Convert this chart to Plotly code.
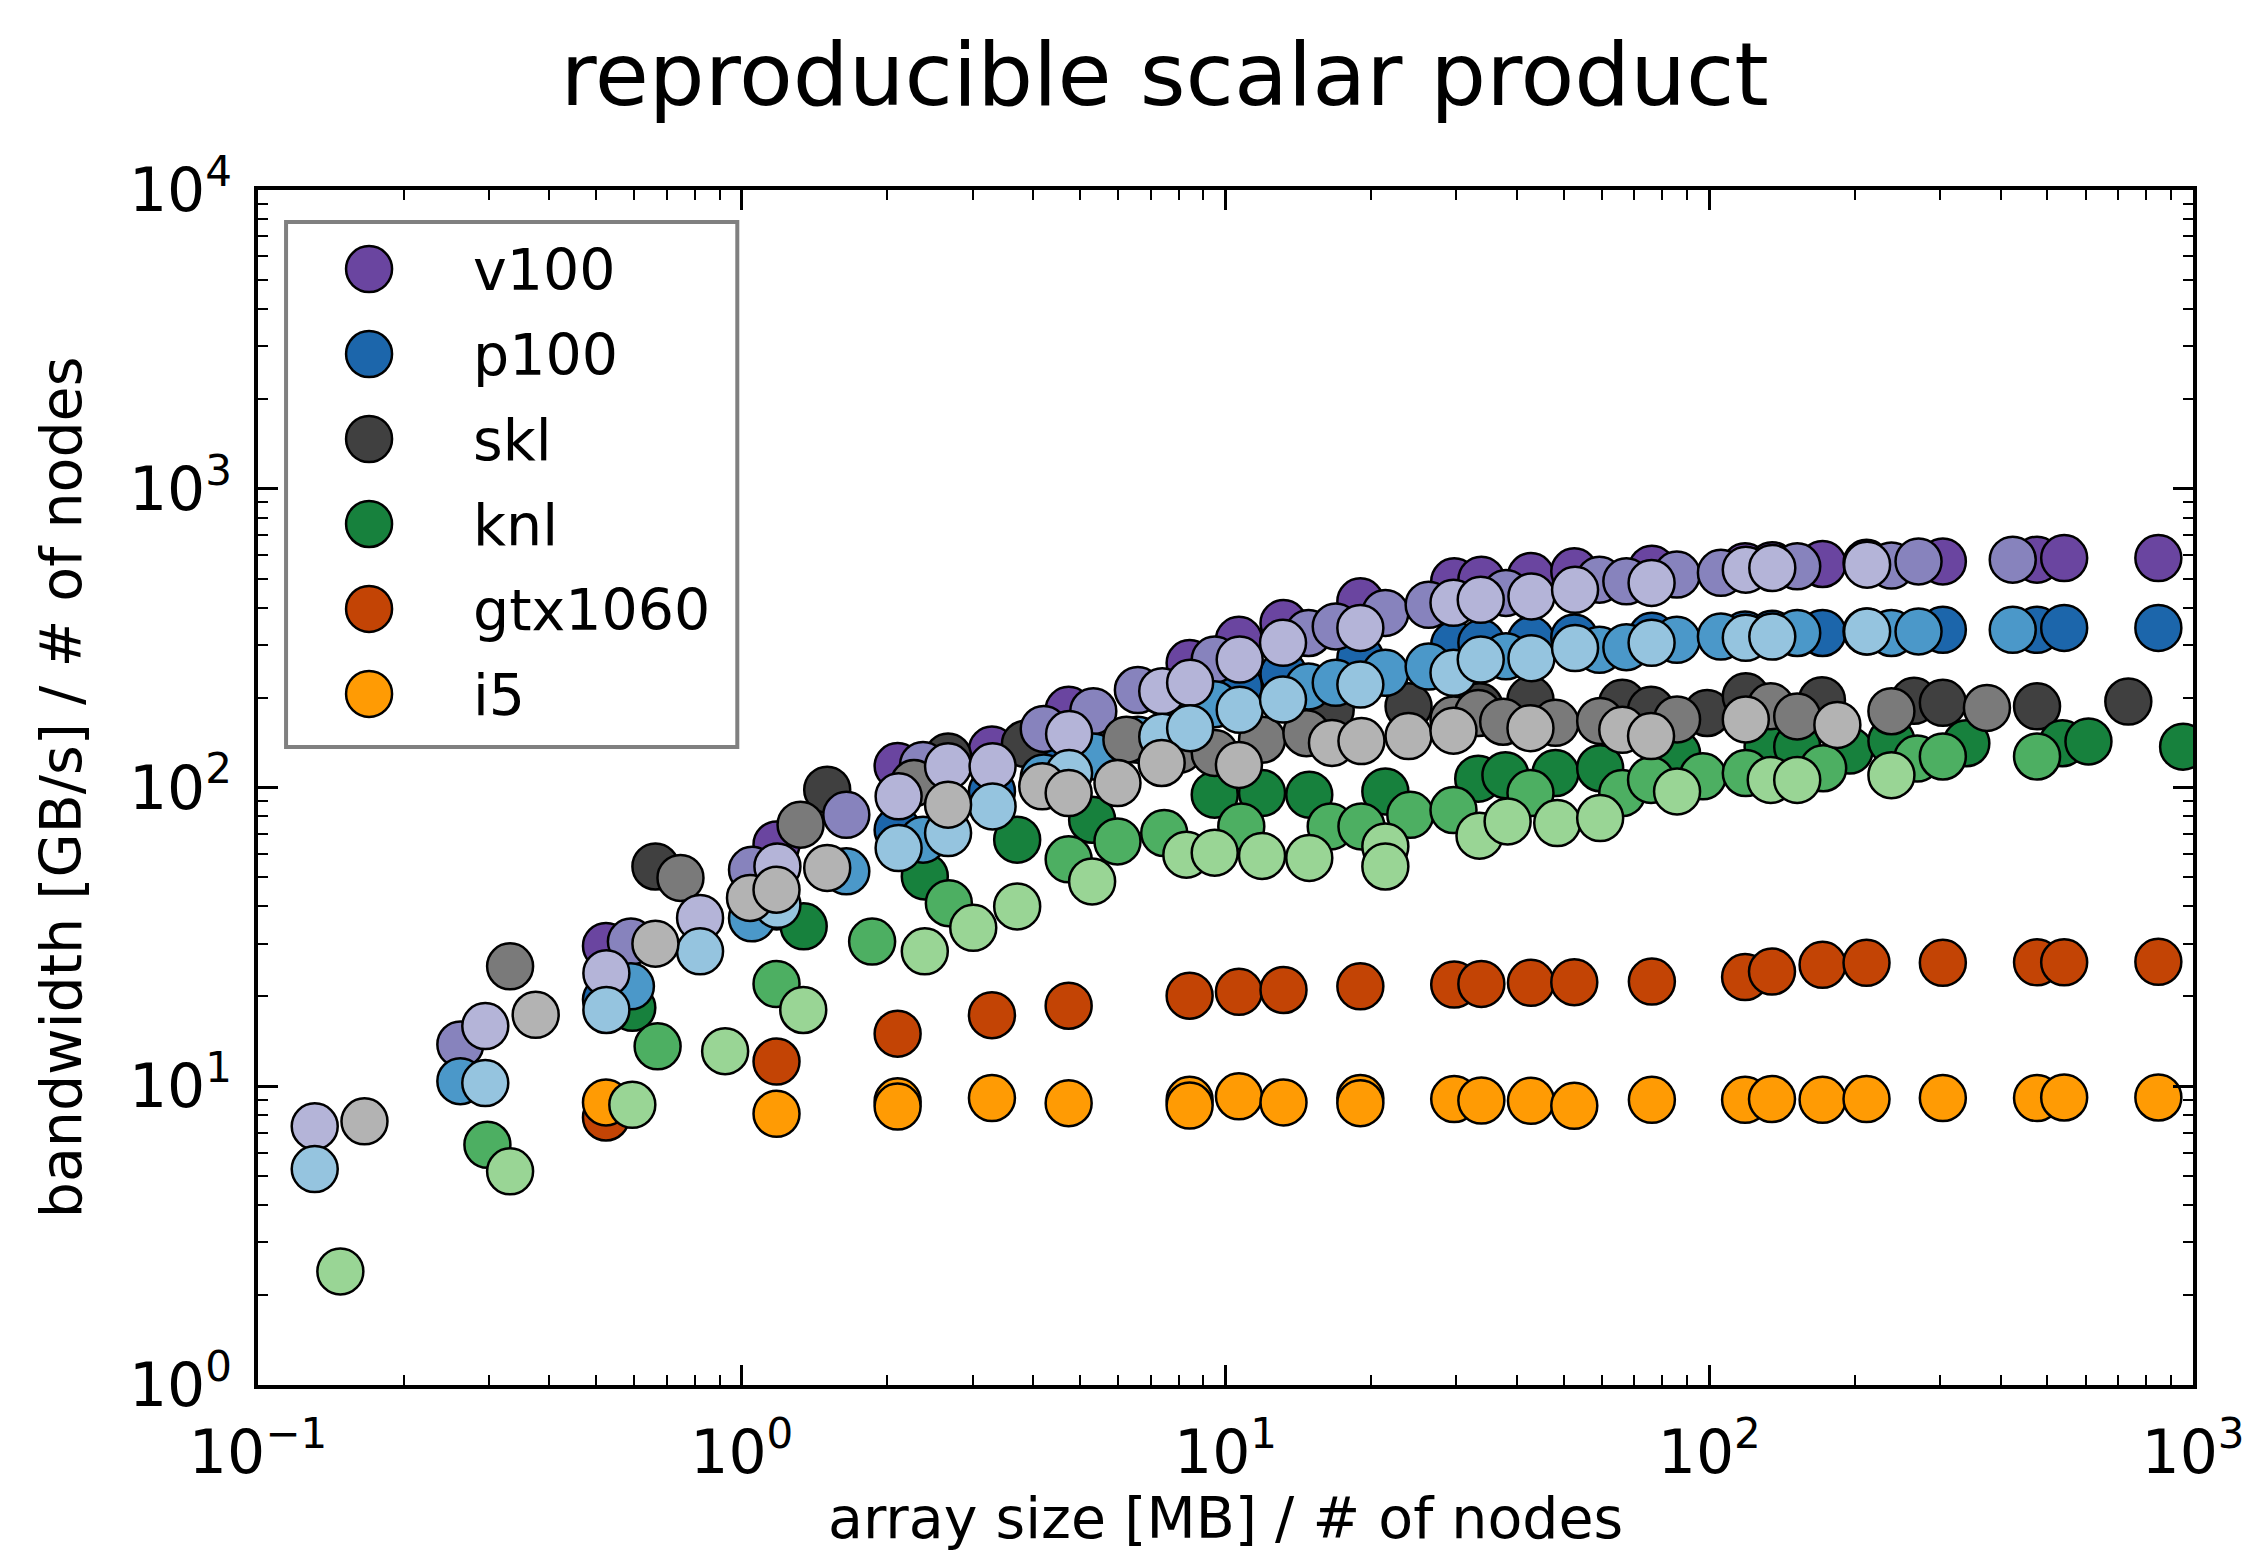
import plotly.graph_objects as go

FONT = "DejaVu Sans"

# ---------------- data (array size [MB]/#nodes , bandwidth [GB/s]/#nodes) ----------------
v100_1_x = [0.524, 1.18, 2.10, 3.29, 4.74, 8.43, 10.66, 13.18, 19.0, 29.7, 33.8, 42.8, 52.6, 76.1, 118.6, 134.8, 171.5, 211.4, 304, 476, 541.6, 848]
v100_1_y = [29.5, 64.5, 118, 134, 182, 261, 312, 355, 420, 490, 496, 510, 529, 540, 550, 555, 560, 565, 571, 579, 586, 586]
v100_2_x = [0.262, 0.59, 1.05, 1.645, 2.37, 4.21, 5.33, 6.59, 9.5, 14.85, 16.9, 21.4, 26.3, 38.0, 59.3, 67.4, 85.7, 105.7, 152, 238, 270.8, 424]
v100_2_y = [13.8, 30.5, 53, 81, 119, 157, 180, 212, 268, 329, 346, 384, 409, 448, 496, 490, 516, 523, 550, 553, 571, 579]
v100_4_x = [0.131, 0.295, 0.525, 0.82, 1.185, 2.11, 2.67, 3.3, 4.75, 7.4, 8.45, 10.7, 13.15, 19.0, 29.6, 33.7, 42.9, 52.8, 76.0, 119, 135, 212]
v100_4_y = [7.34, 15.9, 23.9, 36.6, 54.4, 93.4, 117.7, 117.7, 151, 210, 224, 268, 305, 342, 415, 425, 436, 459, 484, 536, 543, 557]

p100_1_x = [0.524, 1.18, 2.10, 3.29, 4.74, 8.43, 10.66, 13.18, 19.0, 29.7, 33.8, 42.8, 52.6, 76.1, 118.6, 134.8, 171.5, 211.4, 304, 476, 541.6, 848]
p100_1_y = [19.5, 40, 72, 97, 125, 200, 218, 240, 271, 301, 305, 312, 318, 322, 325, 327, 329, 333, 337, 337, 342, 342]
p100_2_x = [0.262, 0.59, 1.05, 1.645, 2.37, 4.21, 5.33, 6.59, 9.5, 14.85, 16.9, 21.4, 26.3, 38.0, 59.3, 67.4, 85.7, 105.7, 152, 238, 270.8, 424]
p100_2_y = [10.4, 21.6, 36.5, 52.4, 66.9, 108, 127, 144.5, 190, 218, 224, 242, 254, 275, 289, 295, 312, 320, 329, 329, 333, 337]
p100_4_x = [0.131, 0.295, 0.525, 0.82, 1.185, 2.11, 2.67, 3.3, 4.75, 7.4, 8.45, 10.7, 13.15, 19.0, 29.6, 33.7, 42.9, 52.8, 76.0, 119, 135, 212]
p100_4_y = [5.28, 10.25, 18.0, 28.3, 40.5, 62.7, 70.4, 86.4, 111.8, 148, 158, 182, 197, 221, 242, 268, 271, 293, 305, 317, 320, 333]

skl_1_x = [0.663, 1.502, 2.67, 3.85, 8.0, 16.5, 23.9, 33.5, 42.7, 66.1, 75.8, 99, 119, 171, 265, 304, 476, 735]
skl_1_y = [54.4, 98.3, 127, 140, 150, 182, 187, 187, 197, 192, 182, 177.6, 202, 196, 195, 192, 187, 194]
skl_2_x = [0.332, 0.747, 1.323, 2.27, 6.24, 8.04, 9.5, 11.9, 14.7, 29.6, 33.3, 37.5, 48.1, 59.5, 85.8, 134, 152, 238, 375]
skl_2_y = [25.2, 49.8, 75.1, 103.5, 144.5, 134, 130.5, 144.5, 152, 169, 177.6, 166, 164.6, 167, 169, 187, 173, 180, 184.6]
skl_4_x = [0.166, 0.375, 0.663, 1.04, 1.18, 1.502, 2.67, 4.18, 4.74, 5.98, 7.38, 10.66, 16.6, 19.1, 23.9, 29.6, 42.7, 66.1, 75.8, 119, 184]
skl_4_y = [7.63, 17.35, 30.0, 42.7, 45.5, 53.8, 87.6, 100.9, 95.8, 103.5, 120.8, 119, 141, 143, 148.6, 155, 158, 156, 148.6, 169, 162]

knl_1_x = [0.594, 1.343, 2.39, 3.71, 5.3, 9.5, 11.9, 14.9, 21.4, 33.3, 37.9, 48.1, 59.5, 85.8, 132, 152, 195, 238, 340, 537, 608, 954]
knl_1_y = [18.3, 34.3, 50.4, 66.9, 78, 94.6, 95.8, 94.6, 97, 107, 110, 111.8, 116, 130, 137, 137, 133, 143, 140.6, 140.6, 142.6, 137]
knl_2_x = [0.298, 0.67, 1.18, 1.86, 2.68, 4.74, 5.98, 7.47, 10.78, 16.5, 19.1, 24.1, 29.6, 42.7, 66.1, 75.8, 97, 119, 172, 269, 304, 476]
knl_2_y = [6.37, 13.6, 22.0, 30.5, 41, 57.5, 66, 70.4, 74.1, 74.1, 74.1, 81, 84, 95.8, 95.8, 106, 109, 111.8, 116, 125, 127, 127]
knl_4_x = [0.148, 0.332, 0.594, 0.924, 1.34, 2.39, 3.01, 3.71, 5.3, 8.3, 9.5, 11.9, 14.9, 21.4, 21.4, 33.5, 38.3, 48.5, 59.5, 85.8, 134, 152, 238]
knl_4_y = [2.40, 5.19, 8.67, 13.1, 18.0, 28.3, 33.9, 40, 48.5, 59.6, 60.5, 59, 58.1, 63.5, 54.4, 69, 77, 76, 79, 97, 106, 106, 110]

gtx1060_x = [0.524, 1.18, 2.10, 3.29, 4.74, 8.43, 10.66, 13.18, 19.0, 29.7, 33.8, 42.8, 52.6, 76.1, 118.6, 134.8, 171.5, 211.4, 304, 476, 541.6, 848]
gtx1060_y = [7.86, 12.1, 15.0, 17.3, 18.6, 20.1, 20.7, 21.0, 21.6, 21.9, 22.0, 22.2, 22.3, 22.4, 23.2, 24.2, 25.5, 25.9, 25.9, 26.0, 26.0, 26.1]

i5_x = [0.524, 1.18, 2.10, 2.10, 3.29, 4.74, 8.43, 8.43, 10.66, 13.18, 19.0, 19.0, 29.7, 33.8, 42.8, 52.6, 76.1, 118.6, 134.8, 171.5, 211.4, 304, 476, 541.6, 848]
i5_y = [8.83, 8.09, 8.90, 8.55, 9.13, 8.78, 9.01, 8.62, 9.25, 8.83, 9.13, 8.78, 9.06, 8.96, 8.94, 8.60, 9.01, 9.01, 9.06, 9.01, 9.06, 9.13, 9.13, 9.17, 9.17]

legend_names = ["v100", "p100", "skl", "knl", "gtx1060", "i5"]
legend_colors = ["#6a45a0", "#1c66ab", "#404040", "#17813d", "#c34405", "#ff9b04"]

x_tick_vals = [0.1, 1, 10, 100, 1000]
x_tick_text = ["10<sup>\u22121</sup>", "10<sup>0</sup>", "10<sup>1</sup>", "10<sup>2</sup>", "10<sup>3</sup>"]
y_tick_vals = [1, 10, 100, 1000, 10000]
y_tick_text = ["10<sup>0</sup>", "10<sup>1</sup>", "10<sup>2</sup>", "10<sup>3</sup>", "10<sup>4</sup>"]

# drawing order: all 1-node runs, then 2-node, then 4-node
traces = [
    (v100_1_x, v100_1_y, "#6a45a0"),
    (p100_1_x, p100_1_y, "#1c66ab"),
    (skl_1_x, skl_1_y, "#404040"),
    (knl_1_x, knl_1_y, "#17813d"),
    (gtx1060_x, gtx1060_y, "#c34405"),
    (i5_x, i5_y, "#ff9b04"),
    (v100_2_x, v100_2_y, "#8783bd"),
    (p100_2_x, p100_2_y, "#4b98c9"),
    (skl_2_x, skl_2_y, "#7a7a7a"),
    (knl_2_x, knl_2_y, "#4daf62"),
    (v100_4_x, v100_4_y, "#b4b4d8"),
    (p100_4_x, p100_4_y, "#95c4df"),
    (skl_4_x, skl_4_y, "#b3b3b3"),
    (knl_4_x, knl_4_y, "#99d595"),
]

MS = 46
fig = go.Figure()
for xs, ys, c in traces:
    fig.add_trace(go.Scatter(
        x=xs, y=ys, mode="markers", showlegend=False, cliponaxis=True,
        marker=dict(size=MS, color=c, line=dict(color="black", width=2.5)),
    ))

# custom legend on an overlay axis (large markers like the original)
idx = list(range(len(legend_names)))
fig.add_trace(go.Scatter(
    x=[0] * len(idx), y=idx, mode="markers", xaxis="x2", yaxis="y2", showlegend=False,
    marker=dict(size=MS, color=legend_colors, line=dict(color="black", width=2.5)),
))
annotations = [
    dict(x=0.97, y=i, xref="x2", yref="y2", text=name, showarrow=False, xanchor="left",
         yanchor="middle", yshift=-1, font=dict(family=FONT, size=57, color="black"))
    for i, name in zip(idx, legend_names)
]
# x-axis title (placed low, like the original)
annotations.append(dict(x=0.5, y=-0.111, xref="paper", yref="paper", text="array size [MB] / # of nodes",
                        showarrow=False, xanchor="center", yanchor="middle",
                        font=dict(family=FONT, size=57, color="black")))

axis_common = dict(
    type="log", showline=True, linecolor="black", linewidth=4, mirror="allticks",
    ticks="inside", ticklen=20, tickwidth=2.5, tickcolor="black", showgrid=False, zeroline=False,
    tickmode="array", tickfont=dict(family=FONT, size=60, color="black"), automargin=False,
    ticklabeloverflow="allow",
    minor=dict(ticks="inside", ticklen=10, tickwidth=2, tickcolor="black", dtick="D1", showgrid=False),
)

fig.update_layout(
    width=2244, height=1554,
    margin=dict(l=258, r=51, t=190, b=169, autoexpand=False),
    paper_bgcolor="white", plot_bgcolor="white",
    font=dict(family=FONT, color="black"),
    title=dict(text="reproducible scalar product", x=0.519, xanchor="center", y=0.952, yanchor="middle",
               xref="container", yref="container", font=dict(family=FONT, size=88, color="black")),
    xaxis=dict(range=[-1, 3], tickvals=x_tick_vals, ticktext=x_tick_text, ticklabelstandoff=12,
               **axis_common),
    yaxis=dict(range=[0, 4], tickvals=y_tick_vals, ticktext=y_tick_text, ticklabelstandoff=10,
               title=dict(text="bandwidth [GB/s] / # of nodes", font=dict(family=FONT, size=57), standoff=30),
               **axis_common),
    xaxis2=dict(domain=[0.0145, 0.2477], anchor="y2", range=[-0.79, 3.505], visible=False, fixedrange=True),
    yaxis2=dict(domain=[0.5339, 0.9732], anchor="x2", range=[5.624, -0.553], visible=False, fixedrange=True),
    annotations=annotations,
    shapes=[dict(type="rect", xref="x2 domain", yref="y2 domain", x0=0, x1=1, y0=0, y1=1,
                 line=dict(color="#808080", width=4), fillcolor="rgba(0,0,0,0)", layer="above")],
)

fig.write_html("out.html")
